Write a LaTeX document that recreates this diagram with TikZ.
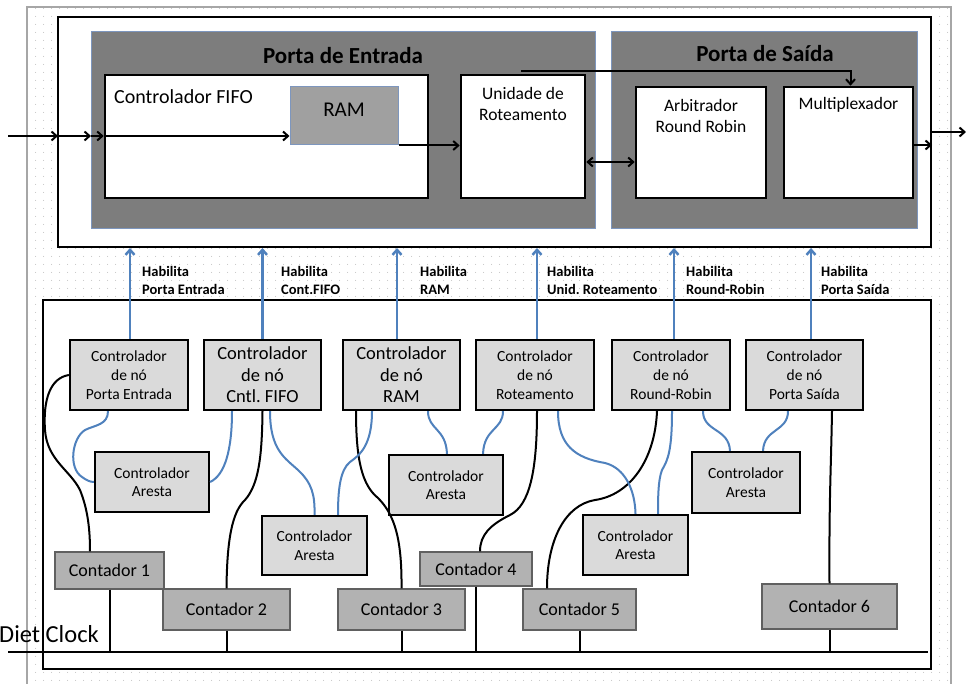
\documentclass[tikz,border=0pt]{standalone}
\usepackage{fontspec}
\setmainfont{Carlito}
\frenchspacing
\usetikzlibrary{arrows.meta,patterns.meta}
\definecolor{blu}{RGB}{79,129,189}
\definecolor{dk}{RGB}{125,125,125}
\definecolor{pbord}{RGB}{125,150,190}
\definecolor{ncfill}{RGB}{218,218,218}
\definecolor{ctfill}{RGB}{178,178,178}
\definecolor{ramfill}{RGB}{160,160,160}
\tikzdeclarepattern{
  name=bgdots,
  type=uncolored,
  bounding box={(0pt,0pt) and (8pt,8pt)},
  tile size={(8pt,8pt)},
  code={\pgfpathcircle{\pgfpoint{4pt}{4pt}}{0.55pt}\pgfusepath{fill}}
}
\tikzset{
  blackbox/.style={draw=black, line width=2.6pt, fill=white, inner sep=0pt},
  outerbox/.style={draw=black, line width=2pt, fill=white, inner sep=0pt},
  portbox/.style={draw=pbord, line width=1pt, fill=dk, inner sep=0pt},
  rambox/.style={draw=pbord, line width=1pt, fill=ramfill, inner sep=0pt},
  ncbox/.style={draw=black, line width=2.2pt, fill=ncfill, align=center, inner sep=0pt,
    minimum height=70pt},
  arbox/.style={draw=black, line width=2.2pt, fill=ncfill, align=center, inner sep=0pt,
    font=\fontsize{15.5}{18.5}\selectfont},
  ctbox/.style={draw=gray!75!black, line width=1.2pt, fill=ctfill, inner sep=0pt,
    font=\fontsize{18}{20}\selectfont},
  lbl/.style={inner sep=0pt, align=center},
  hab/.style={inner sep=0pt, align=left, anchor=west, font=\fontsize{14.5}{18}\selectfont\bfseries},
  bluelink/.style={draw=blu, line width=2pt},
  blacklink/.style={draw=black, line width=2pt},
  enable/.style={draw=blu, line width=2.5pt, -{Straight Barb[length=5pt,width=9pt]}},
  flow/.style={draw=black, line width=2pt, -{Straight Barb[length=5pt,width=9pt]}},
  flow2/.style={draw=black, line width=2pt, {Straight Barb[length=5pt,width=9pt]}-{Straight Barb[length=5pt,width=9pt]}},
}
\begin{document}
\begin{tikzpicture}[x=1pt,y=-1pt]
\useasboundingbox (0,0) rectangle (966,684);
\fill[white] (0,0) rectangle (966,684);
% dotted background
\fill[pattern=bgdots, pattern color=gray!55] (27,7) rectangle (951,690);
\draw[gray!70, line width=1.2pt] (27,690) -- (27,7) -- (951,7) -- (951,690);

% ===== upper section =====
\node[outerbox, minimum width=873pt, minimum height=230pt] (topbox) at (494.5,132) {};
\node[portbox, minimum width=504pt, minimum height=197pt] (pe) at (343,130.5) {};
\node[portbox, minimum width=306pt, minimum height=197pt] (ps) at (764,130.5) {};
\node[lbl, font=\fontsize{23}{26}\selectfont\bfseries] (pet) at (343,56) {Porta de Entrada};
\node[lbl, font=\fontsize{23}{26}\selectfont\bfseries] (pst) at (765,54) {Porta de Saída};

\node[blackbox, minimum width=323pt, minimum height=123pt] (fifo) at (266.5,136.5) {};
\node[lbl, anchor=west, font=\fontsize{20}{24}\selectfont] (fifot) at (114,97) {Controlador FIFO};
\node[rambox, minimum width=108pt, minimum height=58pt] (ram) at (344,116) {};
\node[lbl, font=\fontsize{21}{24}\selectfont] (ramt) at (344,110) {RAM};

\node[blackbox, minimum width=124pt, minimum height=123pt] (uni) at (523,136.5) {};
\node[lbl, font=\fontsize{17.5}{21}\selectfont] (unit) at (523,104) {Unidade de\\Roteamento};
\node[blackbox, minimum width=130pt, minimum height=111pt] (arb) at (701,142.5) {};
\node[lbl, font=\fontsize{17.5}{21}\selectfont] (arbt) at (701,116) {Arbitrador\\Round Robin};
\node[blackbox, minimum width=129pt, minimum height=111pt] (mux) at (848.5,142.5) {};
\node[lbl, font=\fontsize{17.5}{21}\selectfont] (muxt) at (848.5,105) {Multiplexador};

% flow arrows upper
\coordinate (inL) at (8,136);
\coordinate (inA) at (58,136);
\coordinate (inB) at (91,136);
\coordinate (outR) at (966,132);
\coordinate (ua) at ([yshift=-25.5pt]uni.east);
\coordinate (mo) at ([yshift=-2.5pt]mux.east);
\coordinate (ut) at ([xshift=-2pt,yshift=3pt]uni.north);
\coordinate (mt) at ([xshift=2pt]mux.north);
\draw[flow] (inL) -- (inA);
\draw[flow] (inA) -- (inB);
\draw[flow] (inB) -- (fifo.west |- inB);
\draw[flow] (fifo.west |- inB) -- (ram.west |- inB);
\draw[flow] (ram.south east) -- (uni.west |- ram.south east);
\draw[flow] (ut) -| (mt);
\draw[flow2] (ua) -- (arb.west |- ua);
\draw[flow] (mo) -- (topbox.east |- mo);
\draw[flow] (topbox.east |- outR) -- (outR);

% ===== lower section =====
\node[outerbox, minimum width=888pt, minimum height=369pt] (botbox) at (487,484.5) {};

% node controllers
\node[ncbox, minimum width=118pt, font=\fontsize{15.5}{19}\selectfont] (n1) at (129,375) {Controlador\\de nó\\Porta Entrada};
\node[ncbox, minimum width=117pt, font=\fontsize{18.5}{21.5}\selectfont] (n2) at (262.5,375) {Controlador\\de nó\\Cntl. FIFO};
\node[ncbox, minimum width=117pt, font=\fontsize{18.5}{21.5}\selectfont] (n3) at (401.5,375) {Controlador\\de nó\\RAM};
\node[ncbox, minimum width=118pt, font=\fontsize{15.5}{19}\selectfont] (n4) at (535,375) {Controlador\\de nó\\Roteamento};
\node[ncbox, minimum width=118pt, font=\fontsize{15.5}{19}\selectfont] (n5) at (671,375) {Controlador\\de nó\\Round-Robin};
\node[ncbox, minimum width=117pt, font=\fontsize{15.5}{19}\selectfont] (n6) at (804.5,375) {Controlador\\de nó\\Porta Saída};

% enable arrows
\draw[enable] ([xshift=1pt]n1.north) -- ([xshift=1pt]n1.north |- topbox.south);
\draw[enable] (n2.north) -- (n2.north |- topbox.south);
\draw[enable] ([xshift=-4.5pt]n3.north) -- ([xshift=-4.5pt]n3.north |- topbox.south);
\draw[enable] ([xshift=2pt]n4.north) -- ([xshift=2pt]n4.north |- topbox.south);
\draw[enable] ([xshift=3pt]n5.north) -- ([xshift=3pt]n5.north |- topbox.south);
\draw[enable] ([xshift=6.5pt]n6.north) -- ([xshift=6.5pt]n6.north |- topbox.south);

\node[hab] (h1) at (142,280) {Habilita\\Porta Entrada};
\node[hab] (h2) at (281,280) {Habilita\\Cont.FIFO};
\node[hab] (h3) at (420,280) {Habilita\\RAM};
\node[hab] (h4) at (547,280) {Habilita\\Unid. Roteamento};
\node[hab] (h5) at (686,280) {Habilita\\Round-Robin};
\node[hab] (h6) at (821,280) {Habilita\\Porta Saída};

% edge controllers
\node[arbox, minimum width=114pt, minimum height=60pt] (a1) at (152,482) {Controlador\\Aresta};
\node[arbox, minimum width=105pt, minimum height=59pt] (a2) at (314.5,545.5) {Controlador\\Aresta};
\node[arbox, minimum width=114pt, minimum height=60pt] (a3) at (446,485) {Controlador\\Aresta};
\node[arbox, minimum width=105pt, minimum height=60pt] (a4) at (635.5,545) {Controlador\\Aresta};
\node[arbox, minimum width=108pt, minimum height=61pt] (a5) at (746,482.5) {Controlador\\Aresta};

% counters
\node[ctbox, minimum width=109pt, minimum height=37pt] (c1) at (109.5,570.5) {Contador 1};
\node[ctbox, minimum width=127pt, minimum height=41pt] (c2) at (226.5,609.5) {Contador 2};
\node[ctbox, minimum width=127pt, minimum height=41pt] (c3) at (401.5,609.5) {Contador 3};
\node[ctbox, minimum width=112pt, minimum height=34pt] (c4) at (476,569) {Contador 4};
\node[ctbox, minimum width=113pt, minimum height=41pt] (c5) at (579.5,609.5) {Contador 5};
\node[ctbox, minimum width=135pt, minimum height=45pt] (c6) at (829.5,606.5) {Contador 6};

% clock bus
\coordinate (busL) at (8,652);
\coordinate (busR) at (928,652);
\draw[line width=2.2pt] (busL) -- (busR);
\node[inner sep=0pt, anchor=base east, font=\fontsize{24.5}{27}\selectfont] (clk) at (99,642) {Diet Clock};
\foreach \c in {c1,c2,c3,c4,c5,c6}{
  \draw[line width=2pt] (\c.south) -- (\c.south |- busL);
}

% black links node controller -> counter
\draw[blacklink] (n1.west) .. controls (50,378) and (43,400) .. (45,430)
  .. controls (47,460) and (70,470) .. (80,490) .. controls (88,510) and (90,530) .. ([xshift=-19.5pt]c1.north);
\draw[blacklink] (n2.south) .. controls (262,460) and (258,485) .. (245,500)
  .. controls (232,512) and (227,540) .. (c2.north);
\draw[blacklink] ([xshift=-45.5pt]n3.south) .. controls (356,460) and (362,485) .. (378,498)
  .. controls (395,515) and (402,540) .. (c3.north);
\draw[blacklink] ([xshift=2pt]n4.south) .. controls (537,470) and (530,505) .. (510,515)
  .. controls (490,525) and (480,535) .. ([xshift=4pt]c4.north);
\draw[blacklink] ([xshift=-14pt]n5.south) .. controls (655,460) and (630,495) .. (595,500)
  .. controls (565,505) and (547,540) .. ([xshift=-32.5pt]c5.north);
\draw[blacklink] ([xshift=27.5pt]n6.south) .. controls (831,470) and (829,500) .. (c6.north);

% blue links node controller -> edge controller
\draw[bluelink] ([xshift=-21pt]n1.south) .. controls (108,425) and (95,425) .. (85,430)
  .. controls (72,438) and (68,468) .. (82,477) .. controls (86,480) and (90,482) .. (a1.west);
\draw[bluelink] (a1.east) .. controls (225,475) and (232,450) .. ([xshift=-30.5pt]n2.south);
\draw[bluelink] ([xshift=7.5pt]n2.south) .. controls (270,450) and (285,458) .. (298,470)
  .. controls (312,483) and (315,495) .. (a2.north);
\draw[bluelink] ([xshift=-29.5pt]n3.south) .. controls (372,445) and (360,455) .. (350,462)
  .. controls (340,470) and (338,490) .. ([xshift=23.5pt]a2.north);
\draw[bluelink] ([xshift=26.5pt]n3.south) .. controls (428,430) and (446,428) .. ([xshift=1pt]a3.north);
\draw[bluelink] ([xshift=-32pt]n4.south) .. controls (503,430) and (484,428) .. ([xshift=37pt]a3.north);
\draw[bluelink] ([xshift=23pt]n4.south) .. controls (558,445) and (575,458) .. (605,463)
  .. controls (625,468) and (635,490) .. (a4.north);
\draw[bluelink] ([xshift=1pt]n5.south) .. controls (672,450) and (668,460) .. (662,470)
  .. controls (658,480) and (658,500) .. ([xshift=22.5pt]a4.north);
\draw[bluelink] ([xshift=32pt]n5.south) .. controls (703,432) and (729,428) .. ([xshift=-16pt]a5.north);
\draw[bluelink] ([xshift=-16.5pt]n6.south) .. controls (788,432) and (764,428) .. ([xshift=17pt]a5.north);
\end{tikzpicture}
\end{document}
